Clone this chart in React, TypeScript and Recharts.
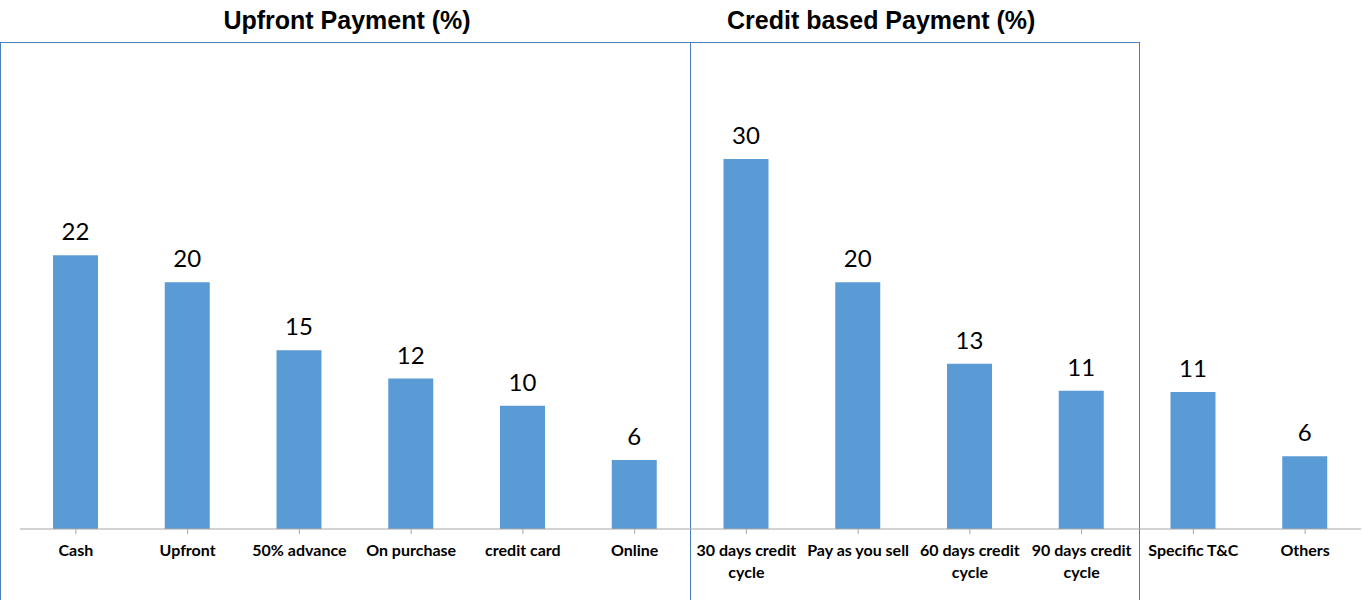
import { BarChart, Bar, XAxis, YAxis, LabelList } from 'recharts';

const categories = [
  'Cash', 'Upfront', '50% advance', 'On purchase', 'credit card', 'Online',
  '30 days credit cycle', 'Pay as you sell', '60 days credit cycle', '90 days credit cycle',
  'Specific T&C', 'Others',
];
// bar heights
const shares = [22.2, 20, 14.5, 12.2, 10, 5.6, 30, 20, 13.4, 11.2, 11.1, 5.9];
// the numbers printed above the bars
const printed = [22, 20, 15, 12, 10, 6, 30, 20, 13, 11, 11, 6];

const chartData = categories.map((name, i) => ({
  name,
  value: shares[i],
  label: printed[i],
}));

function splitLabel(text: string): string[] {
  if (text.length <= 16) return [text];
  const cut = text.lastIndexOf(' ');
  return [text.slice(0, cut), text.slice(cut + 1)];
}

function CategoryTick(props: any) {
  const { x, y, payload } = props;
  const lines = splitLabel(String(payload.value));
  return (
    <g transform={`translate(${x},${y})`}>
      {lines.map((line, i) => (
        <text
          key={i}
          x={0}
          y={20 + i * 22}
          textAnchor="middle"
          fontFamily="Lato, 'Open Sans', sans-serif"
          fontWeight="bold"
          fontSize={16}
          fill="#000"
        >
          {line}
        </text>
      ))}
    </g>
  );
}

const boxLine = '1.5px solid #4A7EBB';

export default function App() {
  return (
    <div style={{ position: 'fixed', left: 0, top: 0, width: 1363, height: 600, background: '#fff' }}>
      <div
        style={{
          position: 'absolute', left: 0, top: 42, width: 689, height: 570,
          borderTop: boxLine, borderLeft: boxLine, borderRight: boxLine,
        }}
      />
      <div
        style={{
          position: 'absolute', left: 689, top: 42, width: 450, height: 570,
          borderTop: boxLine, borderRight: boxLine,
        }}
      />
      <div
        style={{
          position: 'absolute', left: 0, top: 5, width: 694, textAlign: 'center',
          fontFamily: "'Liberation Sans', Arial, sans-serif", fontWeight: 'bold',
          fontSize: 25, lineHeight: '30px', color: '#000',
        }}
      >
        Upfront Payment (%)
      </div>
      <div
        style={{
          position: 'absolute', left: 727, top: 5,
          fontFamily: "'Liberation Sans', Arial, sans-serif", fontWeight: 'bold',
          fontSize: 25, lineHeight: '30px', color: '#000', whiteSpace: 'nowrap',
        }}
      >
        Credit based Payment (%)
      </div>
      <div style={{ position: 'absolute', left: 0, top: 0 }}>
        <BarChart
          width={1363}
          height={600}
          data={chartData}
          margin={{ top: 159, right: 2, bottom: 11, left: 20 }}
          barCategoryGap={0}
        >
          <XAxis
            dataKey="name"
            height={60}
            interval={0}
            axisLine={{ stroke: '#A6A6A6' }}
            tickLine={{ stroke: '#A6A6A6' }}
            tickSize={5}
            tick={<CategoryTick />}
          />
          <YAxis hide domain={[0, 30]} />
          <Bar dataKey="value" fill="#5B9BD5" barSize={45} isAnimationActive={false}>
            <LabelList
              dataKey="label"
              position="top"
              offset={15}
              fill="#000"
              fontSize={24}
              fontFamily="Lato, 'Open Sans', sans-serif"
            />
          </Bar>
        </BarChart>
      </div>
    </div>
  );
}
